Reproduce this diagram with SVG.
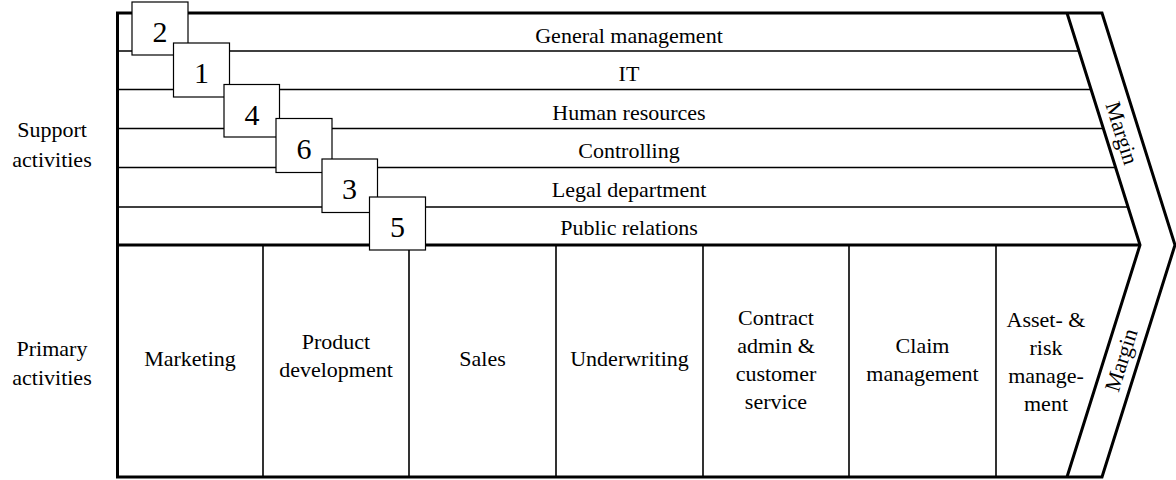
<svg xmlns="http://www.w3.org/2000/svg" width="1176" height="480" viewBox="0 0 1176 480">
<rect width="1176" height="480" fill="#fff"/>
<g id="connectors" fill="none" stroke="#000">
  <path stroke-width="1.6" d="M117.5 51 H1079 M117.5 89.5 H1091.2 M117.5 128.5 H1103.3 M117.5 167.5 H1115.6 M117.5 207 H1128"/>
  <path stroke-width="1.6" d="M263 245 V477 M409 245 V477 M556 245 V477 M703 245 V477 M849 245 V477 M996 245 V477"/>
  <path stroke-width="3" d="M117.5 245 H1140"/>
  <path stroke-width="3" d="M1067 13 L1140 245 L1067 477"/>
  <path stroke-width="3" d="M117.5 13 H1102 L1175 245 L1102 477 H117.5 Z"/>
</g>
<g id="labels-left" text-anchor="middle">
  <text font-family="Liberation Serif" font-size="22" x="52" y="137">Support</text>
  <text font-family="Liberation Serif" font-size="22" x="52" y="167">activities</text>
  <text font-family="Liberation Serif" font-size="22" x="52" y="356">Primary</text>
  <text font-family="Liberation Serif" font-size="22" x="52" y="385">activities</text>
</g>
<g id="row-general-management" text-anchor="middle"><text font-family="Liberation Serif" font-size="22" x="629" y="43">General management</text></g>
<g id="row-it" text-anchor="middle"><text font-family="Liberation Serif" font-size="22" x="629" y="81">IT</text></g>
<g id="row-human-resources" text-anchor="middle"><text font-family="Liberation Serif" font-size="22" x="629" y="119.5">Human resources</text></g>
<g id="row-controlling" text-anchor="middle"><text font-family="Liberation Serif" font-size="22" x="629" y="158">Controlling</text></g>
<g id="row-legal" text-anchor="middle"><text font-family="Liberation Serif" font-size="22" x="629" y="196.5">Legal department</text></g>
<g id="row-pr" text-anchor="middle"><text font-family="Liberation Serif" font-size="22" x="629" y="235">Public relations</text></g>
<g id="box-2" text-anchor="middle"><rect fill="#fff" stroke="#000" stroke-width="1.2" x="132" y="2" width="56" height="53"/><text font-family="Liberation Serif" font-size="30" x="160" y="41.5">2</text></g>
<g id="box-1" text-anchor="middle"><rect fill="#fff" stroke="#000" stroke-width="1.2" x="173.5" y="43" width="56" height="54"/><text font-family="Liberation Serif" font-size="30" x="201.5" y="82.5">1</text></g>
<g id="box-4" text-anchor="middle"><rect fill="#fff" stroke="#000" stroke-width="1.2" x="224" y="84.5" width="55.5" height="52.5"/><text font-family="Liberation Serif" font-size="30" x="252" y="125">4</text></g>
<g id="box-6" text-anchor="middle"><rect fill="#fff" stroke="#000" stroke-width="1.2" x="276" y="118.5" width="56" height="54"/><text font-family="Liberation Serif" font-size="30" x="304" y="159">6</text></g>
<g id="box-3" text-anchor="middle"><rect fill="#fff" stroke="#000" stroke-width="1.2" x="322" y="159" width="55.5" height="53.5"/><text font-family="Liberation Serif" font-size="30" x="349.5" y="199">3</text></g>
<g id="box-5" text-anchor="middle"><rect fill="#fff" stroke="#000" stroke-width="1.2" x="369.5" y="197" width="56" height="53"/><text font-family="Liberation Serif" font-size="30" x="397.5" y="236.5">5</text></g>
<g id="col-marketing" text-anchor="middle"><text font-family="Liberation Serif" font-size="22" x="190" y="366">Marketing</text></g>
<g id="col-product" text-anchor="middle"><text font-family="Liberation Serif" font-size="22" x="336" y="349">Product</text><text font-family="Liberation Serif" font-size="22" x="336" y="376.5">development</text></g>
<g id="col-sales" text-anchor="middle"><text font-family="Liberation Serif" font-size="22" x="482.5" y="366">Sales</text></g>
<g id="col-underwriting" text-anchor="middle"><text font-family="Liberation Serif" font-size="22" x="629.5" y="366">Underwriting</text></g>
<g id="col-contract" text-anchor="middle"><text font-family="Liberation Serif" font-size="22" x="776" y="325">Contract</text><text font-family="Liberation Serif" font-size="22" x="776" y="353">admin &amp;</text><text font-family="Liberation Serif" font-size="22" x="776" y="381">customer</text><text font-family="Liberation Serif" font-size="22" x="776" y="408.5">service</text></g>
<g id="col-claim" text-anchor="middle"><text font-family="Liberation Serif" font-size="22" x="922.5" y="353">Claim</text><text font-family="Liberation Serif" font-size="22" x="922.5" y="381">management</text></g>
<g id="col-asset" text-anchor="middle"><text font-family="Liberation Serif" font-size="22" x="1046" y="327">Asset- &amp;</text><text font-family="Liberation Serif" font-size="22" x="1046" y="355">risk</text><text font-family="Liberation Serif" font-size="22" x="1046" y="383">manage-</text><text font-family="Liberation Serif" font-size="22" x="1046" y="410.5">ment</text></g>
<g id="margin-support" text-anchor="middle"><text font-family="Liberation Serif" font-size="22" transform="translate(1122 133) rotate(72.5)" x="0" y="7.5">Margin</text></g>
<g id="margin-primary" text-anchor="middle"><text font-family="Liberation Serif" font-size="22" transform="translate(1121 360) rotate(-72.5)" x="0" y="7.5">Margin</text></g>
</svg>
